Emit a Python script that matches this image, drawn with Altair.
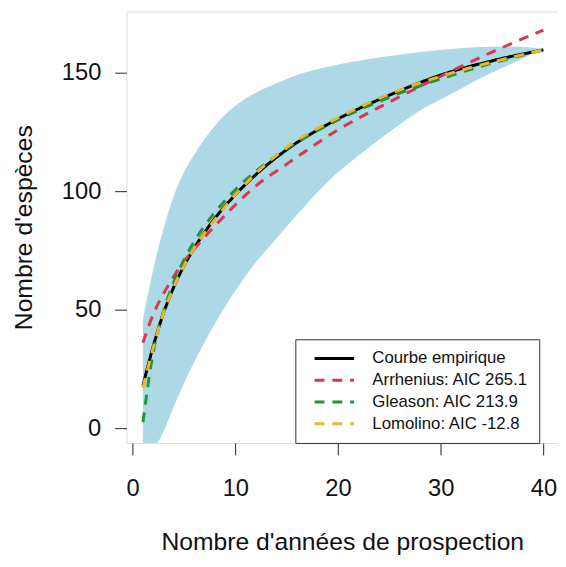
import altair as alt
import pandas as pd

# --- values ---
x_pts = [1, 2, 3, 4, 5, 6, 8, 10, 12, 15, 20, 25, 30, 35, 40]
empirique = [18, 34.5, 48.5, 59.5, 68.5, 76, 88.5, 98.5, 107, 117.5, 130.5, 140.5, 149, 155, 159.6]
arrhenius = [36, 48, 56.7, 64, 70.4, 75.6, 85.3, 94.2, 102.2, 111.4, 125.9, 137.6, 148.5, 158.7, 168]
gleason = [2.5, 32, 49.3, 61.6, 71, 78.8, 91, 100.6, 108.4, 117.9, 130.1, 139.6, 147.4, 154, 159.6]
lomolino = [17, 34, 48.5, 59.5, 68.5, 76, 88, 98.5, 107.5, 118.5, 131, 141, 148.5, 154.5, 159.6]

band_x = [1, 2, 3, 4, 5, 6, 8, 10, 12, 14, 16, 19, 22, 25, 28, 31, 34, 37, 40]
band_upper = [46, 67, 84, 98, 108, 115.5, 127.5, 136, 141.5, 145.5, 149, 152.5, 155, 157, 158.7, 160, 160.8, 161, 160]
band_lower = [-12, -9, -1.5, 9, 19, 28, 44, 58, 70, 80, 90, 104, 115, 125, 134, 141, 148, 154, 160]

series_names = ["Courbe empirique", "Arrhenius: AIC 265.1", "Gleason: AIC 213.9", "Lomolino: AIC -12.8"]
series_colors = ["#000000", "#D9364F", "#23923A", "#EDB52E"]
series_dash = [[1, 0], [10, 8], [10, 8], [10, 8]]

# --- tables ---
rows = []
for name, vals in zip(series_names, [empirique, arrhenius, gleason, lomolino]):
    for xv, yv in zip(x_pts, vals):
        rows.append({"x": xv, "y": yv, "serie": name})
lines_df = pd.DataFrame(rows)
band_df = pd.DataFrame({"x": band_x, "lo": band_lower, "hi": band_upper})

FONT = "Liberation Sans"
xscale = alt.Scale(domain=[-0.6, 41.42], nice=False, zero=False)
yscale = alt.Scale(domain=[-6.25, 175.83], nice=False, zero=False)

xaxis = alt.Axis(values=[0, 10, 20, 30, 40], title="Nombre d'années de prospection",
                 grid=False, domain=False, tickSize=12, tickColor="#222", labelColor="#111",
                 labelFontSize=24, labelPadding=22, titleFontSize=25, titleFontWeight="normal",
                 titleColor="#111", titlePadding=30, labelFont=FONT, titleFont=FONT)
yaxis = alt.Axis(values=[0, 50, 100, 150], title="Nombre d'espèces",
                 grid=False, domain=False, tickSize=12, tickColor="#222", labelColor="#111",
                 labelFontSize=24, labelPadding=14, titleFontSize=25, titleFontWeight="normal",
                 titleColor="#111", titlePadding=25, labelFont=FONT, titleFont=FONT)

band = alt.Chart(band_df).mark_area(color="#ADD8E6", opacity=1, clip=True,
                                    interpolate="monotone").encode(
    x=alt.X("x:Q", scale=xscale, axis=xaxis),
    y=alt.Y("lo:Q", scale=yscale, axis=yaxis),
    y2="hi:Q",
)

lines = alt.Chart(lines_df).mark_line(strokeWidth=3, clip=True, interpolate="monotone").encode(
    x=alt.X("x:Q", scale=xscale),
    y=alt.Y("y:Q", scale=yscale),
    color=alt.Color("serie:N", scale=alt.Scale(domain=series_names, range=series_colors),
                    sort=series_names,
                    legend=alt.Legend(title=None, orient="none", legendX=171, legendY=332,
                                      labelFontSize=17, labelFont=FONT, labelColor="#111",
                                      symbolType="M0,0H8", symbolSize=100, symbolStrokeWidth=3,
                                      labelOffset=50, rowPadding=4, padding=11,
                                      fillColor="white", strokeColor="#333")),
    strokeDash=alt.StrokeDash("serie:N", scale=alt.Scale(domain=series_names, range=series_dash),
                              sort=series_names, legend=None),
    order=alt.Order("x:Q"),
)

chart = alt.layer(band, lines).properties(
    width=437, height=437,
    autosize=alt.AutoSizeParams(type="none"),
    padding={"left": 120, "top": 0, "right": 0, "bottom": 114},
).configure_view(stroke="#222", strokeWidth=1).configure(background="white")

chart.save("out.html", embed_options={"renderer": "svg", "actions": False})
